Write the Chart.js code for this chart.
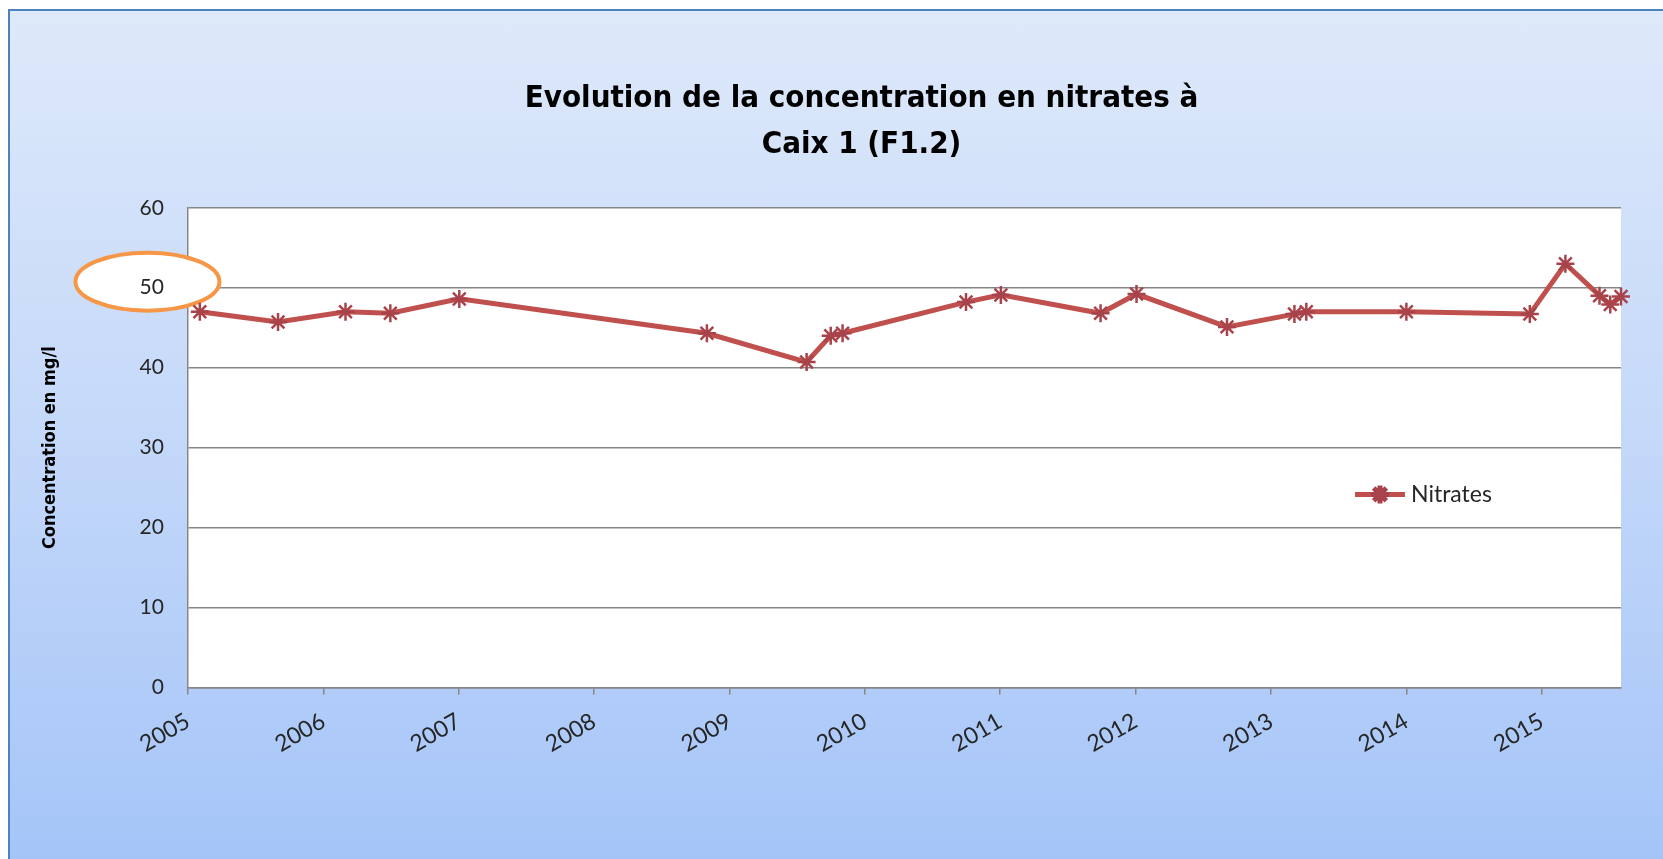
<!DOCTYPE html>
<html>
<head>
<meta charset="utf-8">
<script src="https://cdn.jsdelivr.net/npm/chart.js@4.4.1/dist/chart.umd.min.js"></script>
<style>
  html, body { margin: 0; padding: 0; background: #ffffff; width: 1663px; height: 859px; overflow: hidden; }
  #card {
    position: absolute; left: 8px; top: 9px; width: 1661px; height: 856px;
    border-left: 2px solid #4f81bd; border-top: 2px solid #4f81bd;
    background: linear-gradient(to bottom, #dee9fa 0%, #c4d8f9 50%, #a4c4f8 100%);
  }
  #wrap { position: absolute; left: 0; top: 0; width: 1663px; height: 859px; }
</style>
</head>
<body>
<div id="card"></div>
<div id="wrap"><canvas id="chart" width="1663" height="859"></canvas></div>
<script>
// Sampling dates and measured nitrate concentrations (mg/l)
const sampleDates = [
  '2005-02-02', '2005-09-01', '2006-03-02', '2006-07-01', '2007-01-03',
  '2008-11-01', '2009-07-28', '2009-10-01', '2009-11-02', '2010-10-01',
  '2011-01-03', '2011-09-29', '2012-01-04', '2012-09-04', '2013-03-05',
  '2013-04-06', '2014-01-01', '2014-11-30', '2015-03-06', '2015-06-06',
  '2015-07-05', '2015-08-03'
];
const nitrates = [
  47.0, 45.7, 47.0, 46.8, 48.6,
  44.3, 40.7, 44.0, 44.3, 48.2,
  49.1, 46.8, 49.2, 45.1, 46.7,
  47.0, 47.0, 46.7, 53.0, 49.0,
  47.9, 48.9
];
const yearTicks = [2005, 2006, 2007, 2008, 2009, 2010, 2011, 2012, 2013, 2014, 2015];
const concentrationTicks = [0, 10, 20, 30, 40, 50, 60];
const seriesLabel = 'Nitrates';
const chartTitle = ['Evolution de la concentration en nitrates à', 'Caix 1 (F1.2)'];
const yAxisTitle = 'Concentration en mg/l';
const limitValue = 50;   // drinking-water limit, circled on the axis

const DAY_MS = 86400000;
const toDay = s => Date.parse(s + 'T00:00:00Z') / DAY_MS;

const NARROW = "'Liberation Sans Narrow', 'DejaVu Sans Condensed', 'Arial Narrow', sans-serif";
const REGULAR = "Lato, 'Open Sans', sans-serif";
const GRID = '#868686';

const points = sampleDates.map((d, i) => ({ x: toDay(d), y: nitrates[i] }));

// White plot background, circled limit label, shifted title and in-plot legend
const frame = {
  id: 'frame',
  afterLayout(chart) {
    const t = chart.titleBlock;
    if (t) { t.left += 41; t.right += 41; }
  },
  beforeDraw(chart) {
    const { ctx, chartArea: a } = chart;
    ctx.save();
    ctx.fillStyle = '#ffffff';
    ctx.fillRect(a.left, a.top, a.right - a.left, a.bottom - a.top);
    ctx.restore();
  },
  beforeDatasetsDraw(chart) {
    const { ctx } = chart;
    const ys = chart.scales.y;
    const cx = ys.right - 40.5;
    const cy = ys.getPixelForValue(limitValue) - 6;
    ctx.save();
    ctx.beginPath();
    ctx.ellipse(cx, cy, 72, 29, 0, 0, Math.PI * 2);
    ctx.fillStyle = '#ffffff';
    ctx.fill();
    ctx.lineWidth = 4;
    ctx.strokeStyle = '#f79646';
    ctx.stroke();
    ctx.restore();
  },
  afterDatasetsDraw(chart) {
    const { ctx, chartArea: a } = chart;
    const ds = chart.data.datasets[0];
    const x0 = a.right - 266;
    const y0 = a.bottom - 193;
    ctx.save();
    ctx.strokeStyle = ds.borderColor;
    ctx.lineWidth = ds.borderWidth;
    ctx.beginPath();
    ctx.moveTo(x0, y0);
    ctx.lineTo(x0 + 50, y0);
    ctx.stroke();
    ctx.strokeStyle = ds.pointBorderColor;
    Chart.helpers.drawPoint(ctx, { pointStyle: 'star', radius: 9, borderWidth: 2.5 }, x0 + 25, y0);
    ctx.fillStyle = '#262626';
    ctx.font = '23px ' + REGULAR;
    ctx.textBaseline = 'middle';
    ctx.textAlign = 'left';
    ctx.fillText(ds.label, x0 + 56, y0);
    ctx.restore();
  }
};

new Chart(document.getElementById('chart'), {
  type: 'line',
  data: {
    datasets: [{
      label: seriesLabel,
      data: points,
      borderColor: '#c0504d',
      borderWidth: 5,
      pointStyle: 'star',
      pointRadius: 9,
      pointBorderWidth: 2.5,
      pointBorderColor: '#a9434b',
      pointBackgroundColor: '#c0504d',
      tension: 0,
      clip: false
    }]
  },
  options: {
    responsive: false,
    devicePixelRatio: 1,
    animation: false,
    events: [],
    layout: { padding: { left: 20, right: 42, top: 0, bottom: 88 } },
    scales: {
      x: {
        type: 'linear',
        min: toDay('2005-01-01'),
        max: points[points.length - 1].x,
        afterBuildTicks: scale => {
          scale.ticks = yearTicks.map(y => ({ value: toDay(y + '-01-01') }));
        },
        ticks: {
          autoSkip: false,
          minRotation: 30,
          maxRotation: 30,
          padding: 13,
          color: '#262626',
          font: { family: REGULAR, size: 23 },
          callback: v => String(new Date(v * DAY_MS).getUTCFullYear())
        },
        grid: { drawOnChartArea: false, drawTicks: true, tickLength: 7, color: GRID, lineWidth: 1.5 },
        border: { color: GRID, width: 1.5 }
      },
      y: {
        min: 0,
        max: 60,
        afterBuildTicks: scale => {
          scale.ticks = concentrationTicks.map(v => ({ value: v }));
        },
        ticks: {
          padding: 24,
          z: 1,
          color: '#262626',
          font: { family: REGULAR, size: 21 }
        },
        grid: { color: GRID, lineWidth: 1.5, drawTicks: false },
        border: { color: GRID, width: 1.5 },
        title: {
          display: true,
          text: yAxisTitle,
          color: '#000000',
          font: { family: NARROW, weight: 'bold', size: 18, lineHeight: 1.2 },
          padding: { top: 20, bottom: 54 }
        }
      }
    },
    plugins: {
      legend: { display: false },
      tooltip: { enabled: false },
      title: {
        display: true,
        text: chartTitle,
        color: '#000000',
        font: { family: NARROW, weight: 'bold', size: 31, lineHeight: 1.48 },
        padding: { top: 76, bottom: 40 }
      }
    }
  },
  plugins: [frame]
});
</script>
</body>
</html>
